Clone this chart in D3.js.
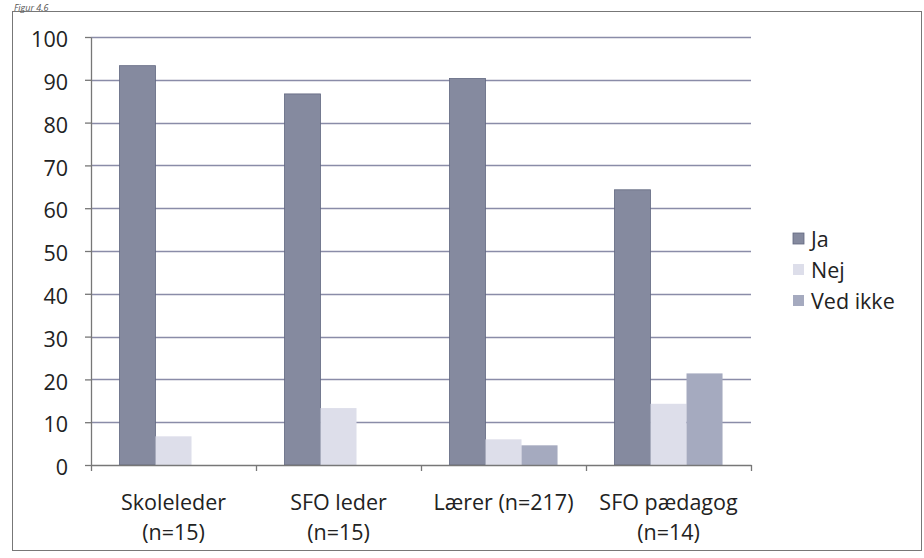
<!DOCTYPE html>
<html><head><meta charset="utf-8">
<script src="https://cdn.jsdelivr.net/npm/d3@7"></script>
<style>body{margin:0;background:#fff}svg{display:block}</style>
</head><body>
<svg id="c" width="924" height="558"></svg>
<script>
const categories = [["Skoleleder","(n=15)"],["SFO leder","(n=15)"],["Lærer (n=217)"],["SFO pædagog","(n=14)"]];
const seriesNames = ["Ja","Nej","Ved ikke"];
const ja = [93.3, 86.7, 90.3, 64.3];
const nej = [6.7, 13.3, 6.0, 14.3];
const vedIkke = [0, 0, 4.6, 21.4];
const yTicks = [0,10,20,30,40,50,60,70,80,90,100];
const colors = ["#858a9f","#dddeea","#a5aabf"];

const values = [ja, nej, vedIkke];
const svg = d3.select("#c");
const font = "'Open Sans', sans-serif";

// outer frame
svg.append("rect").attr("x",12.5).attr("y",11.5).attr("width",909).attr("height",539)
  .attr("fill","none").attr("stroke","#777").attr("stroke-width",1);
svg.append("text").attr("x",14).attr("y",10.5).attr("font-family",font).attr("font-style","italic")
  .attr("font-size",9).attr("fill","#555").text("Figur 4.6");

const x = d3.scaleBand().domain(d3.range(categories.length)).range([91,751]).paddingInner(0).paddingOuter(0);
const xs = d3.scaleBand().domain(seriesNames).range([0,x.bandwidth()]).paddingInner(0).paddingOuter(0.79);
const y = d3.scaleLinear().domain([0,100]).range([465,37]);

// gridlines
svg.append("g").selectAll("line").data(yTicks.filter(d=>d>0)).join("line")
  .attr("x1",91).attr("x2",751).attr("y1",d=>Math.round(y(d))+0.5).attr("y2",d=>Math.round(y(d))+0.5)
  .attr("stroke","#8a8ca8").attr("stroke-width",1.3);

// bars
seriesNames.forEach((s,si)=>{
  svg.append("g").selectAll("rect").data(values[si]).join("rect")
    .attr("x",(d,i)=>x(i)+xs(s)).attr("width",xs.bandwidth())
    .attr("y",d=>y(d)).attr("height",d=>y(0)-y(d))
    .attr("fill",colors[si])
    .attr("stroke", si===0 ? "#626880" : "none").attr("stroke-width",0.8);
});

// y axis
const yAxis = d3.axisLeft(y).tickValues(yTicks).tickSize(6).tickPadding(17).tickSizeOuter(0);
const gy = svg.append("g").attr("transform","translate(91,0)").call(yAxis);
gy.selectAll("path,line").attr("stroke","#777").attr("stroke-width",1.3);
gy.selectAll("text").attr("font-family",font).attr("font-size",21.5).attr("fill","#222").attr("dy","0.45em");

// x axis
const xb = d3.scaleLinear().domain([0,categories.length]).range([91,751]);
const xAxis = d3.axisBottom(xb).tickValues(d3.range(categories.length+1)).tickSize(6).tickFormat("").tickSizeOuter(0);
const gx = svg.append("g").attr("transform","translate(0,465)").call(xAxis);
gx.selectAll("path,line").attr("stroke","#777").attr("stroke-width",1.3);

// category labels
const cl = svg.append("g").selectAll("text").data(categories).join("text")
  .attr("x",(d,i)=>x(i)+x.bandwidth()/2).attr("text-anchor","middle")
  .attr("font-family",font).attr("font-size",21.5).attr("fill","#222");
cl.selectAll("tspan").data(d=>d).join("tspan")
  .attr("x",function(){return this.parentNode.getAttribute("x");})
  .attr("y",(d,j)=>510+j*30).text(d=>d);

// legend
const lg = svg.append("g").selectAll("g").data(seriesNames).join("g")
  .attr("transform",(d,i)=>`translate(793,${240+i*31})`);
lg.append("rect").attr("x",0).attr("y",-7).attr("width",11).attr("height",11)
  .attr("fill",(d,i)=>colors[i]).attr("stroke",(d,i)=>i===0?"#626880":"none").attr("stroke-width",0.8);
lg.append("text").attr("x",18).attr("y",7).attr("font-family",font).attr("font-size",21.5).attr("fill","#222").text(d=>d);
</script>
</body></html>
